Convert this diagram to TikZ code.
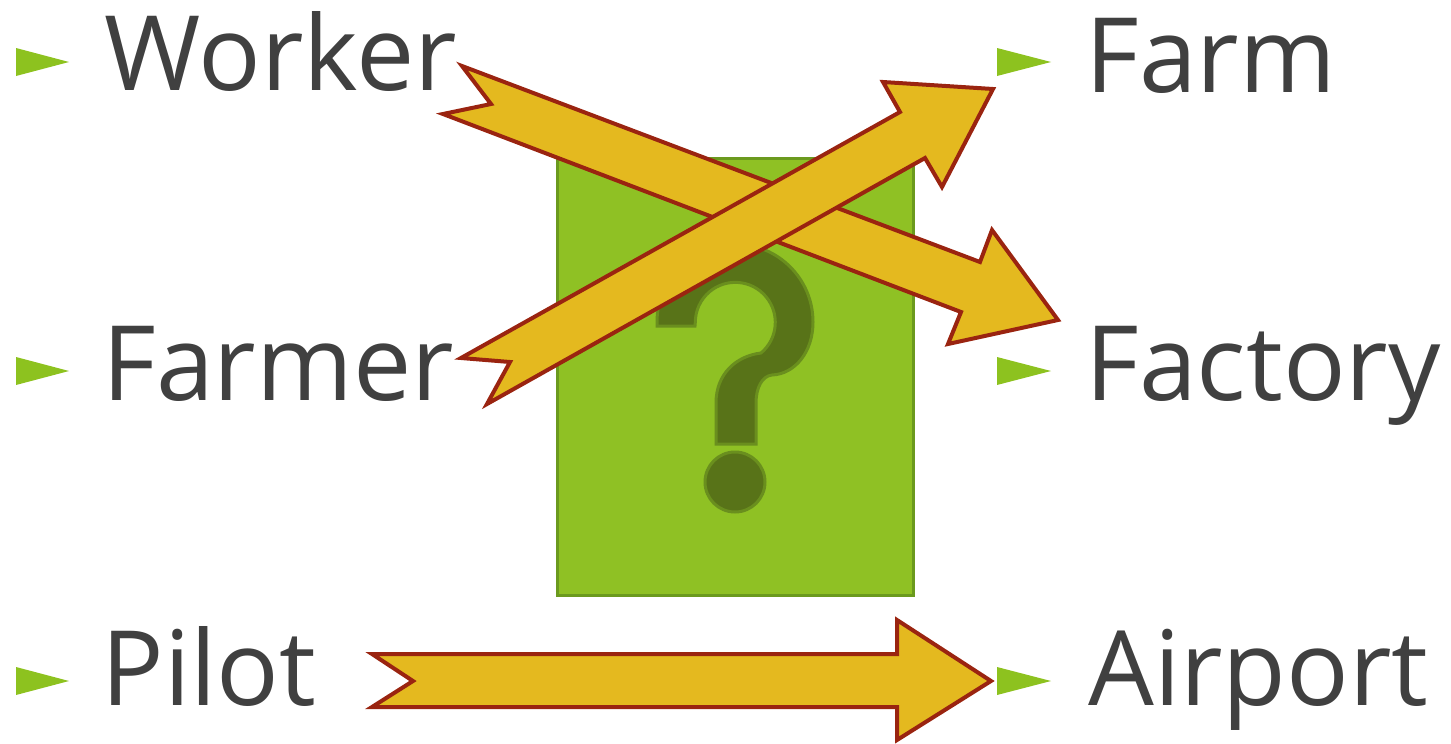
\documentclass[tikz,border=0pt]{standalone}
\usepackage{fontspec}
\setmainfont{Open Sans}
\usetikzlibrary{positioning}

\definecolor{txtgray}{HTML}{404040}
\definecolor{bulgreen}{HTML}{8DC21F}
\definecolor{boxgreen}{HTML}{8FC124}
\definecolor{boxedge}{HTML}{6B9A1E}
\definecolor{qgreen}{HTML}{587318}
\definecolor{qedge}{HTML}{6A8F1E}
\definecolor{arrfill}{HTML}{E4B91F}
\definecolor{arredge}{HTML}{9A2410}

\begin{document}
\begin{tikzpicture}[
  x=0.5pt, y=-0.5pt,
  lbl/.style={anchor=base west, inner sep=0pt, text=txtgray, font=\fontsize{52}{60}\selectfont},
  bullet/.style={fill=bulgreen},
  qbox/.style={fill=boxgreen, draw=boxedge, line width=1.5pt},
  qmark/.style={fill=qgreen, draw=qedge, line width=1.5pt},
  blockarr/.style={fill=arrfill, draw=arredge, line width=2pt}
]
\useasboundingbox (0,0) rectangle (1451,744);

% green box with question mark
\node[qbox, minimum width=178pt, minimum height=218.5pt, inner sep=0pt] (quest) at (735,376.5) {};
\draw[qmark] (657,326) -- (657,322) arc[start angle=180, end angle=360, radius=78]
  .. controls (813,352) and (795,374) .. (772,375)
  .. controls (762,376) and (756,388) .. (756,403)
  -- (756,444) -- (716,444) -- (716,403)
  .. controls (716,374) and (736,356) .. (761,353)
  arc[start angle=50, end angle=-180, radius=40]
  -- (695,326) -- cycle;
\draw[qmark] (735,482) circle[radius=30];

% bullets
\foreach \y in {62,371,681} {
  \fill[bullet] (16,\y-14) -- (69,\y) -- (16,\y+14) -- cycle;
  \fill[bullet] (997,\y-14) -- (1051,\y) -- (997,\y+14) -- cycle;
}

% labels
\node[lbl] (worker) at (104,90) {Worker};
\node[lbl] (farmer) at (102,400) {Farmer};
\node[lbl] (pilot) at (101,705) {Pilot};
\node[lbl] (farm) at (1085,92) {Farm};
\node[lbl] (factory) at (1085,400) {Factory};
\node[lbl] (airport) at (1088,705) {Airport};

% block arrows
\draw[blockarr] (462,66) -- (980,262) -- (992,230) -- (1058,320) -- (948,344)
  -- (961,312) -- (443,114) -- (491,104) -- cycle;
\draw[blockarr] (461,358) -- (900,112) -- (883,82) -- (993,89) -- (942,187)
  -- (925,158) -- (487,404) -- (510,362) -- cycle;
\draw[blockarr] (372,654) -- (897,654) -- (897,620) -- (991,681) -- (897,740)
  -- (897,707) -- (372,707) -- (413,681) -- cycle;
\end{tikzpicture}
\end{document}
